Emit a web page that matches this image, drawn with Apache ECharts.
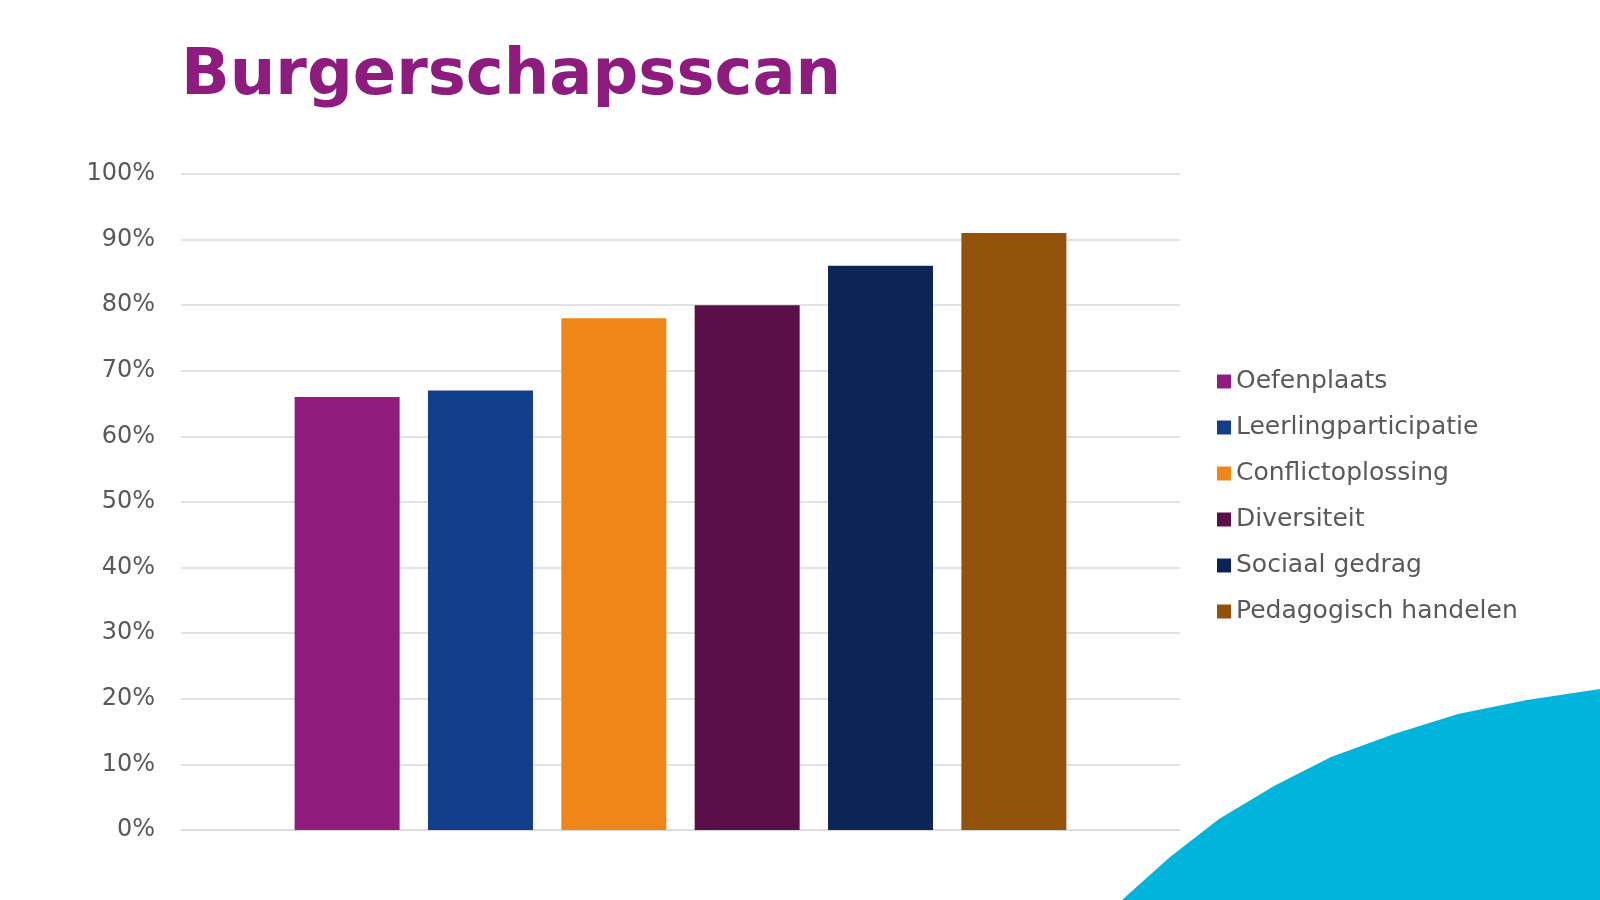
<!DOCTYPE html>
<html>
<head>
<meta charset="utf-8">
<script src="https://cdn.jsdelivr.net/npm/echarts@6/dist/echarts.min.js"></script>
<style>html,body{margin:0;padding:0;background:#fff}#chart{width:1600px;height:900px}</style>
</head>
<body>
<div id="chart"></div>
<script>
var categories = ['Oefenplaats', 'Leerlingparticipatie', 'Conflictoplossing', 'Diversiteit', 'Sociaal gedrag', 'Pedagogisch handelen'];
var values = [66, 67, 78, 80, 86, 91];
var colors = ['#921C7E', '#133E8C', '#EE8618', '#5A0F4A', '#0B2556', '#93520A'];
var yTicks = [0, 10, 20, 30, 40, 50, 60, 70, 80, 90, 100];

var chart = echarts.init(document.getElementById('chart'));
var font = 'DejaVu Sans';

var series = categories.map(function (name, i) {
    return {
        name: name,
        type: 'bar',
        data: [values[i]],
        barWidth: 105,
        barGap: '27%',
        itemStyle: {color: colors[i]}
    };
});

// decorative cyan shape in the bottom right corner
var blob = [[1122, 900], [1170, 857], [1219, 819], [1274, 786], [1331, 757], [1394, 734], [1458, 714], [1527, 700], [1600, 689], [1600, 900]];

chart.setOption({
    animation: false,
    textStyle: {fontFamily: font},
    title: {
        text: 'Burgerschapsscan',
        left: 176, top: 40,
        textStyle: {fontFamily: font, fontSize: 64, fontWeight: 'bold', color: '#8E1C7F'}
    },
    graphic: [{
        type: 'polygon',
        z: -1,
        shape: {points: blob},
        style: {fill: '#00B4DC'}
    }],
    legend: {
        orient: 'vertical',
        left: 1212, top: 364,
        itemWidth: 14, itemHeight: 14,
        itemGap: 21,
        icon: 'rect',
        textStyle: {fontFamily: font, fontSize: 25, color: '#595959'},
        data: categories
    },
    grid: {left: 181, right: 420, top: 174, bottom: 70},
    xAxis: {
        type: 'category',
        data: [''],
        axisLine: {lineStyle: {color: '#d9d9d9'}},
        axisTick: {show: false},
        axisLabel: {show: false}
    },
    yAxis: {
        type: 'value',
        min: yTicks[0], max: yTicks[yTicks.length - 1], interval: 10,
        axisLine: {show: false},
        axisTick: {show: false},
        splitLine: {lineStyle: {color: '#d9d9d9', width: 1.5}},
        axisLabel: {formatter: '{value}%', fontFamily: font, fontSize: 24, color: '#595959', margin: 26}
    },
    series: series
});
</script>
</body>
</html>
